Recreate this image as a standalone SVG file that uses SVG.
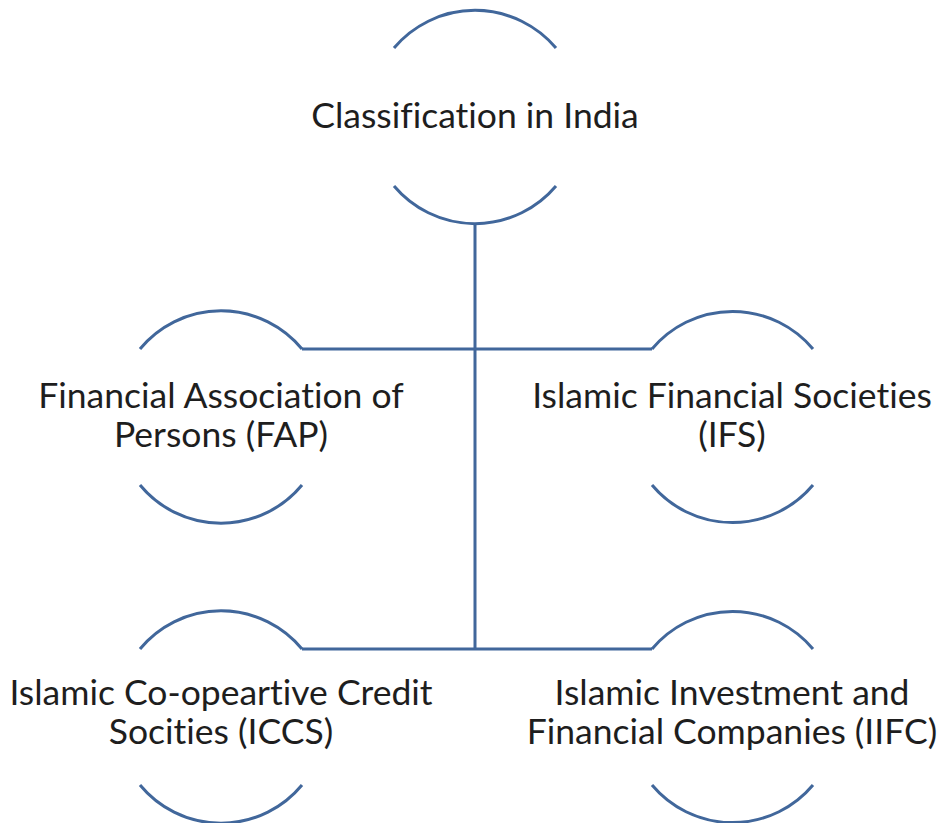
<svg xmlns="http://www.w3.org/2000/svg" width="938" height="823" viewBox="0 0 938 823">
  <style>
    .arc { fill: none; stroke: #41679b; stroke-width: 3; stroke-linecap: butt; }
    .link { fill: none; stroke: #41679b; stroke-width: 3; }
    .label { font-family: Lato, "Open Sans", sans-serif; font-size: 35.5px; fill: #1e1e1e; text-anchor: middle; font-variant-ligatures: none; }
  </style>
  <rect width="938" height="823" fill="#ffffff"/>

  <!-- connectors: trunk and two branch rails -->
  <g id="connectors">
    <path class="link" d="M475,223 V649"/>
    <path class="link" d="M302,349 H652"/>
    <path class="link" d="M302,649 H652"/>
  </g>

  <!-- root node: center (475,117), r 106 -->
  <g id="node-root">
    <path class="arc" d="M394,48 A106,106 0 0 1 556,48"/>
    <path class="arc" d="M394,186 A106,106 0 0 0 556,186"/>
    <text class="label" x="475" y="128">Classification in India</text>
  </g>

  <!-- FAP: center (221,417) -->
  <g id="node-fap">
    <path class="arc" d="M140,349 A105,105 0 0 1 302,349"/>
    <path class="arc" d="M140,485 A105,105 0 0 0 302,485"/>
    <text class="label" x="221" y="408">Financial Association of</text>
    <text class="label" x="221" y="447">Persons (FAP)</text>
  </g>

  <!-- IFS: center (732,417) -->
  <g id="node-ifs">
    <path class="arc" d="M652,349 A105,105 0 0 1 813,349"/>
    <path class="arc" d="M652,485 A105,105 0 0 0 813,485"/>
    <text class="label" x="732" y="408">Islamic Financial Societies</text>
    <text class="label" x="732" y="447">(IFS)</text>
  </g>

  <!-- ICCS: center (221,717) -->
  <g id="node-iccs">
    <path class="arc" d="M140,649 A105,105 0 0 1 302,649"/>
    <path class="arc" d="M140,785 A105,105 0 0 0 302,785"/>
    <text class="label" x="221" y="705">Islamic Co-opeartive Credit</text>
    <text class="label" x="221" y="744">Socities (ICCS)</text>
  </g>

  <!-- IIFC: center (732,717) -->
  <g id="node-iifc">
    <path class="arc" d="M652,649 A105,105 0 0 1 813,649"/>
    <path class="arc" d="M652,785 A105,105 0 0 0 813,785"/>
    <text class="label" x="732" y="705">Islamic Investment and</text>
    <text class="label" x="732" y="744">Financial Companies (IIFC)</text>
  </g>
</svg>
